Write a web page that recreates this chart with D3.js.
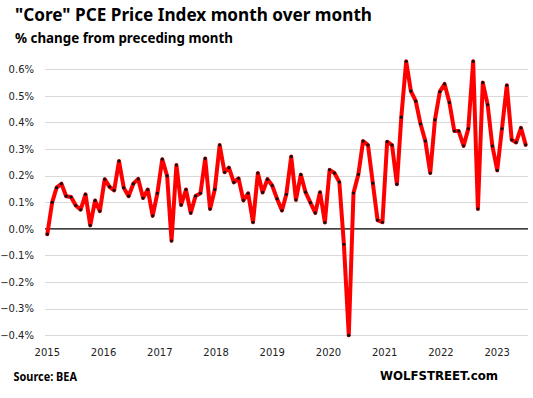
<!DOCTYPE html>
<html>
<head>
<meta charset="utf-8">
<script src="https://cdn.jsdelivr.net/npm/d3@7"></script>
<style>
  body { margin: 0; background: #fff; }
  svg { display: block; }
</style>
</head>
<body>
<div id="chart"></div>
<script>
// monthly core PCE, % change from preceding month, Jan 2015 .. May 2023
const startMonth = new Date(2015, 0, 1);
const pceMoM = [
    -0.02, 0.10, 0.155, 0.17, 0.123, 0.12, 0.088, 0.072, 0.13, 0.013, 0.107, 0.067,  // 2015
    0.187, 0.158, 0.145, 0.255, 0.155, 0.123, 0.17, 0.188, 0.116, 0.148, 0.049, 0.134, // 2016
    0.262, 0.199, -0.045, 0.24, 0.09, 0.148, 0.06, 0.124, 0.134, 0.265, 0.075, 0.148,  // 2017
    0.315, 0.213, 0.23, 0.175, 0.19, 0.107, 0.134, 0.025, 0.21, 0.137, 0.187, 0.163,   // 2018
    0.113, 0.069, 0.13, 0.272, 0.109, 0.204, 0.138, 0.099, 0.06, 0.138, 0.024, 0.222,  // 2019
    0.21, 0.176, -0.058, -0.40, 0.135, 0.205, 0.33, 0.315, 0.172, 0.033, 0.025, 0.328, // 2020
    0.315, 0.168, 0.42, 0.63, 0.518, 0.48, 0.395, 0.33, 0.21, 0.41, 0.516, 0.545,      // 2021
    0.475, 0.368, 0.368, 0.312, 0.377, 0.63, 0.075, 0.55, 0.467, 0.312, 0.22, 0.377,   // 2022
    0.54, 0.335, 0.325, 0.38, 0.316                                                   // 2023
];
const yearLabels = [2015, 2016, 2017, 2018, 2019, 2020, 2021, 2022, 2023];
const yTicks = [0.6, 0.5, 0.4, 0.3, 0.2, 0.1, 0, -0.1, -0.2, -0.3, -0.4];

const W = 533, H = 398;
const plotLeft = 45, plotRight = 528;

const data = pceMoM.map(function(v, i) {
    return {date: d3.timeMonth.offset(startMonth, i), value: v};
});

const svg = d3.select("#chart").append("svg")
    .attr("width", W)
    .attr("height", H);

const x = d3.scaleTime()
    .domain([data[0].date, data[data.length - 1].date])
    .range([47.3, 525.7]);

// year labels sit slightly tighter than the points in the original
const xYear = d3.scaleLinear()
    .domain([2015, 2023])
    .range([46.8, 496.7]);

const y = d3.scaleLinear()
    .domain([-0.4, 0.6])
    .range([335.3, 69.3]);

// gridlines
svg.append("g")
    .selectAll("line")
    .data(yTicks.filter(d => d !== 0))
    .join("line")
    .attr("x1", plotLeft)
    .attr("x2", plotRight)
    .attr("y1", d => Math.round(y(d)) + 0.5)
    .attr("y2", d => Math.round(y(d)) + 0.5)
    .attr("stroke", "#d9d9d9")
    .attr("stroke-width", 1);

// y axis labels
const yAxis = svg.append("g")
    .attr("transform", "translate(34,0)")
    .call(d3.axisLeft(y).tickValues(yTicks).tickSize(0).tickPadding(0)
        .tickFormat(d => d3.format(".1f")(d) + "%"));
yAxis.select(".domain").remove();
yAxis.selectAll("text")
    .attr("font-family", "DejaVu Sans, Verdana, sans-serif")
    .attr("font-size", 10)
    .attr("fill", "#222");

// zero line
svg.append("line")
    .attr("x1", plotLeft)
    .attr("x2", plotRight)
    .attr("y1", y(0))
    .attr("y2", y(0))
    .attr("stroke", "#000")
    .attr("stroke-width", 1.3);

// x axis labels
const xAxis = svg.append("g")
    .attr("transform", "translate(0,346)")
    .call(d3.axisBottom(xYear).tickValues(yearLabels).tickSize(0).tickPadding(3)
        .tickFormat(d3.format("d")));
xAxis.select(".domain").remove();
xAxis.selectAll("text")
    .attr("font-family", "DejaVu Sans, Verdana, sans-serif")
    .attr("font-size", 10)
    .attr("fill", "#222");

// red line
const line = d3.line()
    .x(d => x(d.date))
    .y(d => y(d.value));

svg.append("path")
    .datum(data)
    .attr("d", line)
    .attr("fill", "none")
    .attr("stroke", "#ff0000")
    .attr("stroke-width", 4)
    .attr("stroke-linejoin", "round")
    .attr("stroke-linecap", "round");

svg.append("g")
    .selectAll("circle")
    .data(data)
    .join("circle")
    .attr("cx", d => x(d.date))
    .attr("cy", d => y(d.value))
    .attr("r", 1.6)
    .attr("fill", "#111");

// titles
svg.append("text")
    .attr("x", 15)
    .attr("y", 21)
    .attr("font-family", "Noto Sans, Open Sans, sans-serif")
    .attr("font-weight", "bold")
    .attr("font-size", 17.5)
    .attr("textLength", 357)
    .attr("lengthAdjust", "spacingAndGlyphs")
    .attr("fill", "#000")
    .text('"Core" PCE Price Index month over month');

svg.append("text")
    .attr("x", 15)
    .attr("y", 43)
    .attr("font-family", "Noto Sans, Open Sans, sans-serif")
    .attr("font-weight", "bold")
    .attr("font-size", 13.5)
    .attr("textLength", 218)
    .attr("lengthAdjust", "spacingAndGlyphs")
    .attr("fill", "#000")
    .text("% change from preceding month");

svg.append("text")
    .attr("x", 13.5)
    .attr("y", 381)
    .attr("font-family", "Noto Sans, Open Sans, sans-serif")
    .attr("font-weight", "bold")
    .attr("font-size", 11.5)
    .attr("textLength", 63.5)
    .attr("lengthAdjust", "spacingAndGlyphs")
    .attr("fill", "#000")
    .text("Source: BEA");

svg.append("text")
    .attr("x", 380)
    .attr("y", 380)
    .attr("font-family", "DejaVu Sans, Verdana, sans-serif")
    .attr("font-weight", "bold")
    .attr("font-size", 11.5)
    .attr("textLength", 118)
    .attr("lengthAdjust", "spacingAndGlyphs")
    .attr("fill", "#000")
    .text("WOLFSTREET.com");
</script>
</body>
</html>
